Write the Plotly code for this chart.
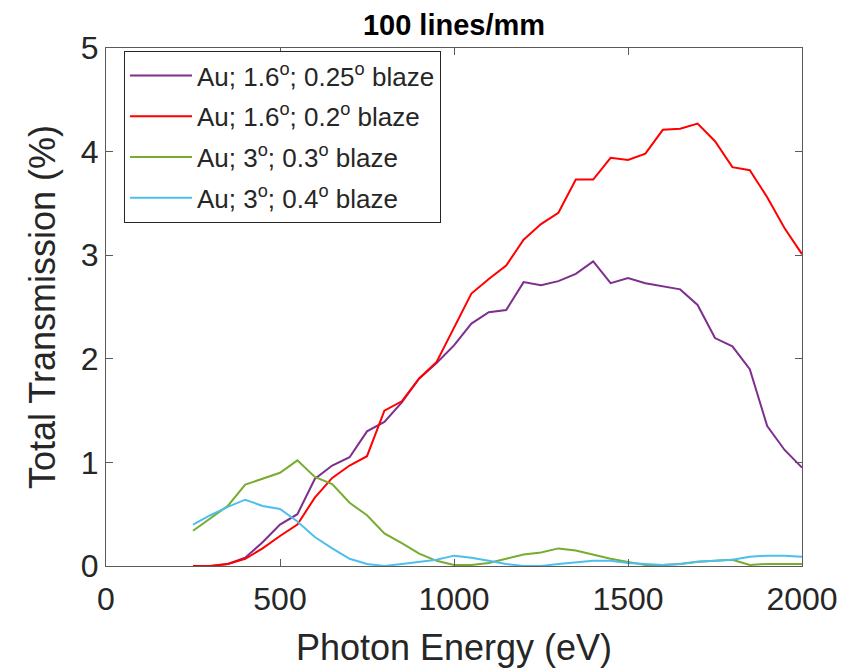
import plotly.graph_objects as go

energy = [250, 300, 350, 400, 450, 500, 550, 600, 650, 700, 750, 800, 850, 900,
          950, 1000, 1050, 1100, 1150, 1200, 1250, 1300, 1350, 1400, 1450, 1500,
          1550, 1600, 1650, 1700, 1750, 1800, 1850, 1900, 1950, 2000]

au_16_025 = [0.0, 0.0, 0.02, 0.08, 0.23, 0.40, 0.50, 0.84, 0.97, 1.05, 1.30, 1.39,
             1.58, 1.81, 1.96, 2.13, 2.34, 2.45, 2.47, 2.74, 2.71, 2.75, 2.82, 2.94,
             2.73, 2.78, 2.73, 2.70, 2.67, 2.52, 2.20, 2.12, 1.90, 1.35, 1.12, 0.95]

au_16_02 = [0.0, 0.0, 0.02, 0.07, 0.17, 0.29, 0.40, 0.66, 0.85, 0.97, 1.06, 1.50,
            1.59, 1.81, 1.97, 2.30, 2.63, 2.77, 2.90, 3.15, 3.30, 3.41, 3.73, 3.73,
            3.94, 3.92, 3.98, 4.21, 4.22, 4.27, 4.10, 3.85, 3.82, 3.56, 3.26, 3.01]

au_3_03 = [0.34, 0.46, 0.58, 0.785, 0.84, 0.90, 1.02, 0.86, 0.79, 0.61, 0.49, 0.315,
           0.22, 0.12, 0.05, 0.01, 0.01, 0.03, 0.07, 0.11, 0.13, 0.17, 0.15, 0.11,
           0.07, 0.04, 0.01, 0.01, 0.02, 0.04, 0.05, 0.06, 0.01, 0.02, 0.02, 0.02]

au_3_04 = [0.40, 0.49, 0.57, 0.64, 0.58, 0.55, 0.43, 0.28, 0.17, 0.07, 0.02, 0.0,
           0.02, 0.04, 0.06, 0.10, 0.08, 0.05, 0.02, 0.0, 0.0, 0.02, 0.035, 0.05,
           0.05, 0.03, 0.02, 0.01, 0.02, 0.04, 0.05, 0.06, 0.09, 0.10, 0.10, 0.09]

series_names = ["Au; 1.6<sup>o</sup>; 0.25<sup>o</sup> blaze",
                "Au; 1.6<sup>o</sup>; 0.2<sup>o</sup> blaze",
                "Au; 3<sup>o</sup>; 0.3<sup>o</sup> blaze",
                "Au; 3<sup>o</sup>; 0.4<sup>o</sup> blaze"]
series_values = [au_16_025, au_16_02, au_3_03, au_3_04]
series_colors = ["#7E2F8E", "#FF0000", "#77AC30", "#4DBEEE"]

x_ticks = [0, 500, 1000, 1500, 2000]
y_ticks = [0, 1, 2, 3, 4, 5]

FONT = "Liberation Sans, Arial, Helvetica, sans-serif"
TXT = "#262626"
AX = "#5a5a5a"

fig = go.Figure()
for i, (name, vals, col) in enumerate(zip(series_names, series_values, series_colors)):
    fig.add_trace(go.Scatter(x=energy, y=vals, mode="lines", name=name,
                             legendgroup=f"g{i}",
                             line=dict(color=col, width=2)))

fig.update_layout(
    width=860, height=669,
    margin=dict(l=106, r=58, t=48, b=103, autoexpand=False),
    paper_bgcolor="white", plot_bgcolor="white",
    font=dict(family=FONT, color=TXT, size=24),
    title=dict(text="<b>100 lines/mm</b>", x=(106 + 802) / 2 / 860, xanchor="center",
               y=1 - 25 / 669, yanchor="middle", yref="container",
               font=dict(family=FONT, size=29, color="black")),
    showlegend=True,
    legend=dict(x=18 / 696, y=1 - 3 / 518, xanchor="left", yanchor="top",
                bgcolor="white", bordercolor=TXT, borderwidth=1,
                font=dict(size=26, color=TXT, family=FONT),
                itemwidth=62,
                tracegroupgap=4, traceorder="grouped"),
)
fig.update_xaxes(range=[0, 2000], tickvals=x_ticks, ticks="inside", ticklen=7,
                 tickcolor=AX, showline=True, linecolor=AX, linewidth=1, mirror="ticks",
                 showgrid=False, zeroline=False, ticklabelstandoff=5, automargin=False,
                 tickfont=dict(size=32, color=TXT, family=FONT),
                 title=dict(text="Photon Energy (eV)", font=dict(size=36, color=TXT, family=FONT),
                            standoff=18))
fig.update_yaxes(range=[0, 5], tickvals=y_ticks, ticks="inside", ticklen=7,
                 tickcolor=AX, showline=True, linecolor=AX, linewidth=1, mirror="ticks",
                 showgrid=False, zeroline=False, automargin=False,
                 tickfont=dict(size=32, color=TXT, family=FONT),
                 title=dict(text="Total Transmission (%)", font=dict(size=36, color=TXT, family=FONT),
                            standoff=14))

fig.write_html("out.html")
